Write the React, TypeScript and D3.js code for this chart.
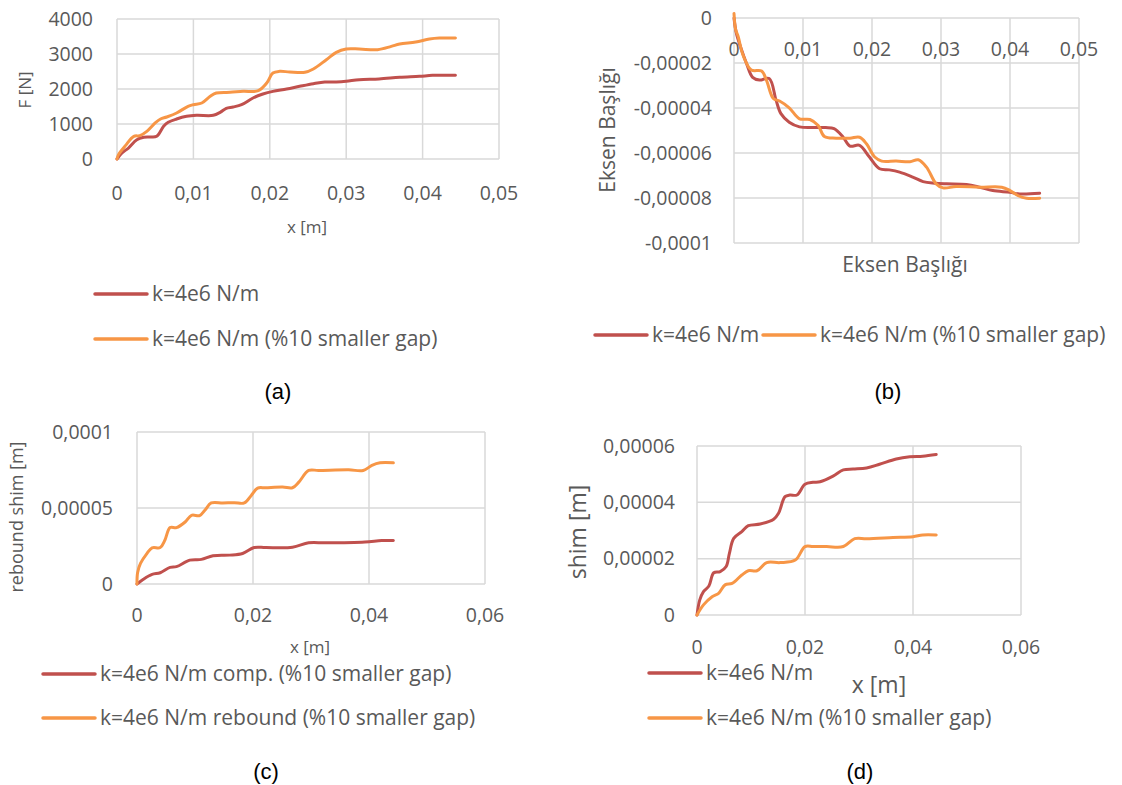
import React, { FC } from 'react'
import * as d3 from 'd3'

// colours used by the original spreadsheet charts
const RED = '#C0504D'
const ORANGE = '#F79646'
const GRID = '#D9D9D9'
const TEXT = '#595959'
const FONT = '"Open Sans", "Noto Sans", sans-serif'

type Pt = [number, number]

// (a) force vs displacement
const forceStiff: Pt[] = [
	[0, 0], [0.00065, 171], [0.0015, 314], [0.0026, 552], [0.0035, 619], [0.0043, 629],
	[0.0052, 648], [0.0061, 933], [0.0067, 1048], [0.0078, 1143], [0.0091, 1219],
	[0.0104, 1248], [0.0126, 1248], [0.0135, 1333], [0.0143, 1448], [0.0152, 1486],
	[0.0163, 1552], [0.0178, 1743], [0.0191, 1857], [0.0204, 1933], [0.0222, 2000],
	[0.0239, 2076], [0.0257, 2152], [0.0272, 2200], [0.0287, 2200], [0.03, 2219],
	[0.0317, 2267], [0.0343, 2286], [0.037, 2333], [0.0396, 2362], [0.0413, 2390],
	[0.0443, 2390]
]
const forceSmallGap: Pt[] = [
	[0, 0], [0.0002, 124], [0.0011, 381], [0.0022, 648], [0.003, 667], [0.0039, 790],
	[0.005, 1029], [0.0057, 1143], [0.0065, 1200], [0.0078, 1314], [0.0093, 1505],
	[0.01, 1552], [0.0111, 1600], [0.0122, 1790], [0.013, 1886], [0.0148, 1905],
	[0.0165, 1933], [0.0185, 1952], [0.0196, 2171], [0.0204, 2457], [0.0213, 2505],
	[0.0226, 2486], [0.0246, 2476], [0.0257, 2571], [0.0274, 2838], [0.0287, 3048],
	[0.03, 3143], [0.0317, 3143], [0.0341, 3124], [0.0359, 3219], [0.037, 3286],
	[0.0391, 3343], [0.0409, 3429], [0.0422, 3457], [0.0443, 3457]
]

// (b) second quantity, negative values
const bStiff: Pt[] = [
	[0, 0], [0.00034, -0.0000067], [0.0011, -0.0000142], [0.0018, -0.0000201],
	[0.0027, -0.0000264], [0.0037, -0.0000276], [0.0051, -0.0000269], [0.0061, -0.0000366],
	[0.0068, -0.0000425], [0.008, -0.0000463], [0.0095, -0.0000484], [0.0114, -0.0000487],
	[0.0133, -0.0000487], [0.0145, -0.0000492], [0.0158, -0.0000529], [0.0168, -0.0000569],
	[0.0182, -0.0000566], [0.0196, -0.0000617], [0.0211, -0.000067], [0.0225, -0.0000675],
	[0.024, -0.0000685], [0.0259, -0.0000707], [0.0274, -0.0000727], [0.0291, -0.0000734],
	[0.0308, -0.0000737], [0.0337, -0.000074], [0.0356, -0.0000752], [0.0375, -0.0000767],
	[0.04, -0.0000775], [0.0414, -0.0000782], [0.0443, -0.0000779]
]
const bSmallGap: Pt[] = [
	[0, 0.000002], [0.00024, -0.0000052], [0.0006, -0.0000082], [0.0013, -0.0000164],
	[0.0025, -0.0000231], [0.004, -0.0000236], [0.0047, -0.0000276], [0.0057, -0.0000358],
	[0.0066, -0.0000369], [0.008, -0.0000399], [0.0095, -0.0000448], [0.011, -0.0000451],
	[0.0122, -0.0000478], [0.0131, -0.0000527], [0.0148, -0.0000534], [0.0168, -0.0000534],
	[0.0182, -0.000053], [0.0192, -0.0000559], [0.0204, -0.0000618], [0.0214, -0.0000636],
	[0.0235, -0.0000636], [0.0255, -0.0000639], [0.0267, -0.000063], [0.0279, -0.0000663],
	[0.0293, -0.0000737], [0.0303, -0.0000755], [0.0322, -0.0000749], [0.0356, -0.0000752],
	[0.0388, -0.0000752], [0.04, -0.0000767], [0.0412, -0.000079], [0.0424, -0.0000801],
	[0.0443, -0.0000801]
]

// (c) shim deflection, small gap
const cComp: Pt[] = [
	[0, 0], [0.0011, 0.0000031], [0.0026, 0.0000063], [0.004, 0.0000074], [0.0057, 0.0000109],
	[0.0068, 0.0000114], [0.0091, 0.0000157], [0.0111, 0.0000162], [0.0131, 0.0000186],
	[0.016, 0.000019], [0.0182, 0.0000201], [0.0202, 0.000024], [0.0222, 0.000024],
	[0.0268, 0.0000242], [0.0296, 0.0000271], [0.0325, 0.0000271], [0.0393, 0.0000277],
	[0.0422, 0.0000286], [0.0442, 0.0000286]
]
const cRebound: Pt[] = [
	[0, 0], [0.0001, 0.0000074], [0.0006, 0.0000135], [0.0017, 0.00002], [0.0026, 0.0000238],
	[0.004, 0.000024], [0.0048, 0.0000288], [0.0057, 0.0000371], [0.0068, 0.0000371],
	[0.0083, 0.0000408], [0.0094, 0.0000452], [0.0108, 0.000045], [0.0117, 0.0000485],
	[0.0128, 0.0000533], [0.0148, 0.0000533], [0.0168, 0.0000535], [0.0185, 0.0000533],
	[0.0197, 0.0000583], [0.0208, 0.0000631], [0.0222, 0.0000633], [0.0251, 0.0000638],
	[0.0268, 0.0000633], [0.0279, 0.000067], [0.0296, 0.0000747], [0.0313, 0.0000747],
	[0.0365, 0.0000751], [0.039, 0.0000747], [0.0405, 0.000078], [0.0419, 0.0000797],
	[0.0442, 0.0000797]
]

// (d) shim deflection
const dStiff: Pt[] = [
	[0, 0], [0.0005, 0.0000053], [0.0012, 0.0000083], [0.0022, 0.0000103], [0.0031, 0.000015],
	[0.0043, 0.0000154], [0.0054, 0.0000172], [0.006, 0.0000219], [0.0068, 0.0000272],
	[0.0083, 0.0000296], [0.0095, 0.0000317], [0.0117, 0.0000323], [0.0142, 0.000034],
	[0.0151, 0.0000361], [0.0163, 0.000042], [0.0172, 0.0000426], [0.0185, 0.0000426],
	[0.02, 0.0000464], [0.0215, 0.0000471], [0.0228, 0.0000473], [0.0252, 0.0000493],
	[0.0271, 0.0000515], [0.0289, 0.0000518], [0.0314, 0.0000522], [0.0338, 0.0000535],
	[0.0369, 0.0000554], [0.0394, 0.0000562], [0.0418, 0.0000564], [0.0443, 0.000057]
]
const dSmallGap: Pt[] = [
	[0, 0], [0.0012, 0.0000036], [0.0028, 0.0000065], [0.004, 0.0000077], [0.0052, 0.0000107],
	[0.0065, 0.0000112], [0.0083, 0.0000142], [0.0095, 0.0000157], [0.0111, 0.0000157],
	[0.0129, 0.0000186], [0.0154, 0.0000186], [0.0182, 0.0000195], [0.02, 0.0000243],
	[0.0215, 0.0000243], [0.024, 0.0000243], [0.0271, 0.0000243], [0.0292, 0.0000271],
	[0.0314, 0.0000271], [0.0363, 0.0000275], [0.04, 0.0000278], [0.0418, 0.0000284],
	[0.0443, 0.0000284]
]

// tick values
const xTicks05 = [0, 0.01, 0.02, 0.03, 0.04, 0.05]
const xTicks06 = [0, 0.02, 0.04, 0.06]
const forceTicks = [0, 1000, 2000, 3000, 4000]
const bTicks = [0, -0.00002, -0.00004, -0.00006, -0.00008, -0.0001]
const cTicks = [0, 0.00005, 0.0001]
const dTicks = [0, 0.00002, 0.00004, 0.00006]

// legend labels
const legendA = ['k=4e6 N/m', 'k=4e6 N/m (%10 smaller gap)']
const legendC = ['k=4e6 N/m comp. (%10 smaller  gap)', 'k=4e6 N/m rebound (%10 smaller gap)']
const legendD = ['k=4e6 N/m', 'k=4e6 N/m (%10 smaller  gap)']

const trLocale = d3.formatLocale({
	decimal: ',',
	thousands: '.',
	grouping: [3],
	currency: ['', ''],
	minus: '-'
})
const fmtX = trLocale.format('.2~f')
const fmtForce = trLocale.format('d')
const fmtSmall = trLocale.format('.5~f')

interface ILegendItem {
	label: string
	color: string
	x: number
	y: number
}

interface ITitle {
	text: string
	x: number
	y: number
	size: number
	rotate?: boolean
}

interface IPanel {
	left: number
	right: number
	top: number
	bottom: number
	xDomain: [number, number]
	yDomain: [number, number]
	xTicks: number[]
	yTicks: number[]
	yFormat: (v: number) => string
	xLabelY: number
	yLabelX: number
	series: { data: Pt[]; color: string }[]
	titles: ITitle[]
	legend: ILegendItem[]
}

const Panel: FC<{ p: IPanel }> = ({ p }) => {
	const x = d3.scaleLinear().domain(p.xDomain).range([p.left, p.right])
	const y = d3.scaleLinear().domain(p.yDomain).range([p.bottom, p.top])
	const line = d3
		.line<Pt>()
		.x((d) => x(d[0]))
		.y((d) => y(d[1]))
		.curve(d3.curveCatmullRom.alpha(0.5))

	return (
		<g>
			{/* grid */}
			{p.xTicks.map((t) => (
				<line key={'gx' + t} x1={x(t)} x2={x(t)} y1={p.top} y2={p.bottom} stroke={GRID} strokeWidth={1.5} />
			))}
			{p.yTicks.map((t) => (
				<line key={'gy' + t} x1={p.left} x2={p.right} y1={y(t)} y2={y(t)} stroke={GRID} strokeWidth={1.5} />
			))}
			{/* tick labels */}
			{p.xTicks.map((t) => (
				<text key={'tx' + t} x={x(t)} y={p.xLabelY} textAnchor="middle" fontSize={19.5} fill={TEXT}>
					{fmtX(t)}
				</text>
			))}
			{p.yTicks.map((t) => (
				<text key={'ty' + t} x={p.yLabelX} y={y(t)} dy="0.35em" textAnchor="end" fontSize={19.5} fill={TEXT}>
					{p.yFormat(t)}
				</text>
			))}
			{/* series */}
			{p.series.map((s, i) => (
				<path
					key={'s' + i}
					d={line(s.data) || ''}
					fill="none"
					stroke={s.color}
					strokeWidth={3}
					strokeLinejoin="round"
					strokeLinecap="round"
				/>
			))}
			{/* axis titles */}
			{p.titles.map((t, i) => (
				<text
					key={'t' + i}
					x={t.x}
					y={t.y}
					dy="0.35em"
					textAnchor="middle"
					fontSize={t.size}
					fill={TEXT}
					transform={t.rotate ? `rotate(-90, ${t.x}, ${t.y})` : undefined}
				>
					{t.text}
				</text>
			))}
			{/* legend */}
			{p.legend.map((l, i) => (
				<g key={'l' + i}>
					<line x1={l.x} x2={l.x + 52} y1={l.y} y2={l.y} stroke={l.color} strokeWidth={3.5} strokeLinecap="round" />
					<text x={l.x + 57} y={l.y} dy="0.35em" fontSize={21} fill={TEXT}>
						{l.label}
					</text>
				</g>
			))}
		</g>
	)
}

const panels: IPanel[] = [
	{
		left: 117, right: 499, top: 19, bottom: 159,
		xDomain: [0, 0.05], yDomain: [0, 4000],
		xTicks: xTicks05, yTicks: forceTicks, yFormat: fmtForce,
		xLabelY: 200, yLabelX: 93,
		series: [{ data: forceStiff, color: RED }, { data: forceSmallGap, color: ORANGE }],
		titles: [
			{ text: 'x [m]', x: 307, y: 227, size: 17 },
			{ text: 'F [N]', x: 25, y: 90, size: 17, rotate: true }
		],
		legend: [
			{ label: legendA[0], color: RED, x: 95, y: 294 },
			{ label: legendA[1], color: ORANGE, x: 95, y: 339 }
		]
	},
	{
		left: 734, right: 1079, top: 18, bottom: 243,
		xDomain: [0, 0.05], yDomain: [-0.0001, 0],
		xTicks: xTicks05, yTicks: bTicks, yFormat: fmtSmall,
		xLabelY: 56, yLabelX: 712,
		series: [{ data: bStiff, color: RED }, { data: bSmallGap, color: ORANGE }],
		titles: [
			{ text: 'Eksen Başlığı', x: 905, y: 265, size: 21 },
			{ text: 'Eksen Başlığı', x: 608, y: 130, size: 21, rotate: true }
		],
		legend: [
			{ label: legendA[0], color: RED, x: 595, y: 335 },
			{ label: legendA[1], color: ORANGE, x: 763, y: 335 }
		]
	},
	{
		left: 137, right: 485, top: 432, bottom: 584,
		xDomain: [0, 0.06], yDomain: [0, 0.0001],
		xTicks: xTicks06, yTicks: cTicks, yFormat: fmtSmall,
		xLabelY: 622, yLabelX: 113,
		series: [{ data: cComp, color: RED }, { data: cRebound, color: ORANGE }],
		titles: [
			{ text: 'x [m]', x: 310, y: 647, size: 17 },
			{ text: 'rebound shim [m]', x: 17, y: 517, size: 18, rotate: true }
		],
		legend: [
			{ label: legendC[0], color: RED, x: 43, y: 674 },
			{ label: legendC[1], color: ORANGE, x: 43, y: 718 }
		]
	},
	{
		left: 697, right: 1021, top: 446, bottom: 615,
		xDomain: [0, 0.06], yDomain: [0, 0.00006],
		xTicks: xTicks06, yTicks: dTicks, yFormat: fmtSmall,
		xLabelY: 654, yLabelX: 675,
		series: [{ data: dStiff, color: RED }, { data: dSmallGap, color: ORANGE }],
		titles: [
			{ text: 'x [m]', x: 879, y: 685, size: 23 },
			{ text: 'shim [m]', x: 578, y: 532, size: 23, rotate: true }
		],
		legend: [
			{ label: legendD[0], color: RED, x: 649, y: 673 },
			{ label: legendD[1], color: ORANGE, x: 649, y: 718 }
		]
	}
]

const captions = [
	{ text: '(a)', x: 278, y: 399 },
	{ text: '(b)', x: 888, y: 399 },
	{ text: '(c)', x: 266, y: 779 },
	{ text: '(d)', x: 860, y: 779 }
]

const App: FC = () => {
	return (
		<svg
			width={1122}
			height={785}
			style={{ position: 'absolute', left: 0, top: 0, background: '#fff' }}
			fontFamily={FONT}
		>
			{panels.map((p, i) => (
				<Panel key={i} p={p} />
			))}
			{captions.map((c) => (
				<text key={c.text} x={c.x} y={c.y} textAnchor="middle" fontSize={22} fontFamily="'Liberation Sans', Arial, sans-serif" fill="#000">
					{c.text}
				</text>
			))}
		</svg>
	)
}

export default App
